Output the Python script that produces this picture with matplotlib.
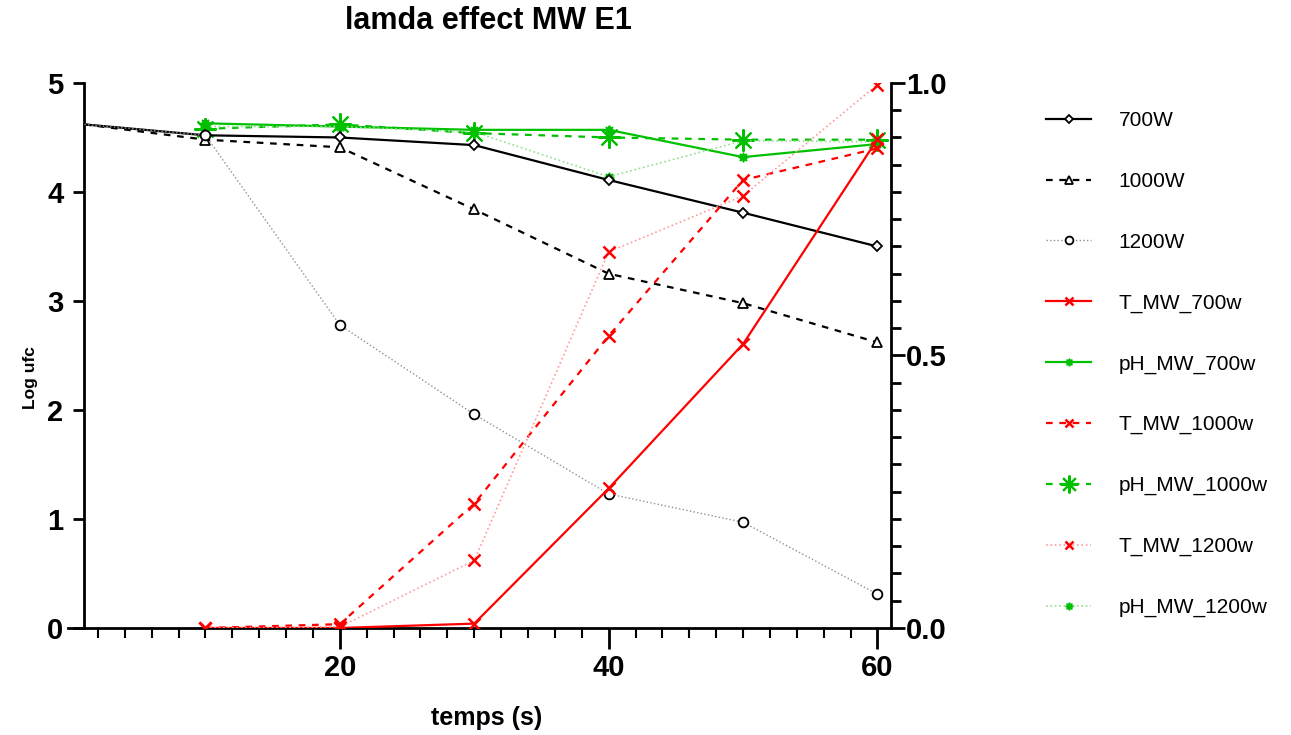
import matplotlib
matplotlib.use("Agg")
import matplotlib.pyplot as plt
from matplotlib.ticker import MultipleLocator, FixedLocator

plt.rcParams['font.family'] = ['Liberation Sans', 'DejaVu Sans']

# survival counts (Log ufc) per power level
t_log = [1, 10, 20, 30, 40, 50, 60]
log_700 = [4.62, 4.52, 4.50, 4.43, 4.11, 3.81, 3.50]
log_1000 = [4.62, 4.48, 4.41, 3.84, 3.25, 2.98, 2.62]
log_1200 = [4.62, 4.52, 2.78, 1.96, 1.23, 0.97, 0.31]

# temperature (right axis) and pH (left axis) traces
t_run = [10, 20, 30, 40, 50, 60]
T_700 = [0.0, 0.0, 0.008, 0.256, 0.521, 0.897]
T_1000 = [0.0, 0.007, 0.228, 0.536, 0.822, 0.880]
T_1200 = [0.0, 0.002, 0.124, 0.690, 0.793, 0.997]
pH_700 = [4.63, 4.60, 4.57, 4.57, 4.32, 4.44]
pH_1000 = [4.58, 4.62, 4.54, 4.50, 4.48, 4.48]
pH_1200 = [4.60, 4.60, 4.55, 4.14, 4.47, 4.46]

RED = "#ff0000"
GREEN = "#00c000"

fig = plt.figure(figsize=(12.91, 7.35), dpi=100)
ax = fig.add_axes([0.0524, 0.1456, 0.6377, 0.7415])
ax2 = ax.twinx()

# left axis: Log ufc (no marker on the starting point)
skip0 = slice(1, None)
ax.plot(t_log, log_700, "-", color="black", lw=1.6, marker="D", ms=5.5,
        mfc="white", mec="black", mew=1.3, markevery=skip0, label="700W", zorder=5)
ax.plot(t_log, log_1000, "--", color="black", lw=1.6, marker="^", ms=7,
        mfc="white", mec="black", mew=1.3, dashes=(3, 3), markevery=skip0,
        label="1000W", zorder=5)
ax.plot(t_log, log_1200, ":", color="#909090", lw=1.0, marker="o", ms=7,
        mfc="white", mec="black", mew=1.3, markevery=skip0, label="1200W", zorder=5)

# right axis: temperature
l_t700, = ax2.plot(t_run, T_700, "-", color=RED, lw=1.6, marker="x", ms=8,
                   mew=1.8, label="T_MW_700w")
l_t1000, = ax2.plot(t_run, T_1000, "--", color=RED, lw=1.6, marker="x", ms=8,
                    mew=1.8, dashes=(3, 3), label="T_MW_1000w")
l_t1200, = ax2.plot(t_run, T_1200, ":", color="#ff9a9a", lw=1.2, marker="x", ms=8,
                    mec=RED, mew=1.8, label="T_MW_1200w")

# left axis: pH
l_p700, = ax.plot(t_run, pH_700, "-", color=GREEN, lw=1.6, marker=(8, 1, 0), ms=7,
                  mfc=GREEN, mec=GREEN, label="pH_MW_700w", zorder=4)
l_p1000, = ax.plot(t_run, pH_1000, "--", color=GREEN, lw=1.6, marker=(8, 2, 0), ms=16,
                   mec=GREEN, mew=1.5, dashes=(3, 3), label="pH_MW_1000w", zorder=4)
l_p1200, = ax.plot(t_run, pH_1200, ":", color="#90e090", lw=1.2, marker=(8, 1, 0), ms=7,
                   mfc=GREEN, mec=GREEN, label="pH_MW_1200w", zorder=4)

ax.set_xlim(-0.25, 61)
ax.set_ylim(0, 5)
ax2.set_ylim(0, 1.0)

for a in (ax, ax2):
    a.spines["top"].set_visible(False)
    for s in a.spines.values():
        s.set_linewidth(2)
ax.spines["right"].set_visible(False)
ax2.spines["left"].set_visible(False)
ax2.spines["bottom"].set_visible(False)
ax.spines["left"].set_position(("data", 1))

ax.xaxis.set_major_locator(FixedLocator([20, 40, 60]))
ax.xaxis.set_minor_locator(FixedLocator([v for v in range(2, 61, 2) if v % 20]))
ax.yaxis.set_major_locator(MultipleLocator(1))
ax2.yaxis.set_major_locator(FixedLocator([0, 0.5, 1.0]))
ax2.yaxis.set_minor_locator(MultipleLocator(0.05))
ax2.set_yticklabels(["0.0", "0.5", "1.0"])

ax.tick_params(axis="x", which="major", length=15, width=2, direction="out",
               labelsize=21, pad=4)
ax.tick_params(axis="x", which="minor", length=7, width=1.5, direction="out")
ax.tick_params(axis="y", which="major", length=8, width=2, labelsize=21, pad=7)
ax2.tick_params(axis="y", which="major", length=10, width=2, labelsize=21, pad=1)
ax2.tick_params(axis="y", which="minor", length=7, width=2)
for lab in ax.get_xticklabels() + ax.get_yticklabels() + ax2.get_yticklabels():
    lab.set_fontweight("bold")

ax.set_xlabel("temps (s)", fontsize=18, fontweight="bold")
ax.xaxis.set_label_coords(0.509, -0.143)
ax.set_ylabel("Log ufc", fontsize=12.5, fontweight="bold",
              family=["Liberation Sans Narrow", "Liberation Sans"])
ax.yaxis.set_label_coords(-0.036, 0.46)
fig.text(0.378, 1 - 21 / 735, "lamda effect MW E1", fontsize=22, fontweight="bold",
         ha="center", va="center")

h1, lab1 = ax.get_legend_handles_labels()
handles = [h1[0], h1[1], h1[2], l_t700, l_p700, l_t1000, l_p1000, l_t1200, l_p1200]
fig.legend(handles, [h.get_label() for h in handles], loc="upper left",
           bbox_to_anchor=(0.796, 0.874), frameon=False, fontsize=15,
           handlelength=2.16, handletextpad=1.3, labelspacing=2.0, markerscale=0.8)

fig.savefig("out.png", dpi=100)
